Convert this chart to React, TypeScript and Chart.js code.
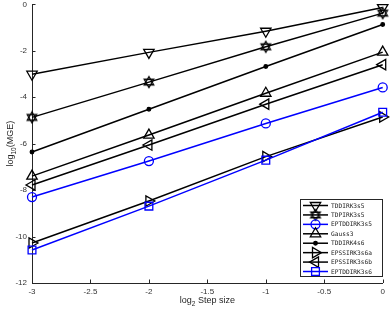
import React, { useEffect, useRef } from "react";
import { Chart, registerables } from "chart.js";
import { drawPoint } from "chart.js/helpers";
Chart.register(...registerables);

const stepSizes = [-3, -2, -1, 0];
const xTickValues = [-3, -2.5, -2, -1.5, -1, -0.5, 0];
const yTickValues = [-12, -10, -8, -6, -4, -2, 0];
const seriesNames = [
  "TDDIRK3s5",
  "TDPIRK3s5",
  "EPTDDIRK3s5",
  "Gauss3",
  "TDDIRK4s6",
  "EPSSIRK3s6a",
  "EPSSIRK3s6b",
  "EPTDDIRK3s6",
];
const tddirk3s5 = [-3.01, -2.07, -1.16, -0.14];
const tdpirk3s5 = [-4.87, -3.35, -1.83, -0.38];
const eptddirk3s5 = [-8.3, -6.75, -5.13, -3.58];
const gauss3 = [-7.4, -5.63, -3.83, -2.06];
const tddirk4s6 = [-6.36, -4.52, -2.68, -0.87];
const epssirk3s6a = [-10.28, -8.47, -6.56, -4.85];
const epssirk3s6b = [-7.78, -6.06, -4.3, -2.6];
const eptddirk3s6 = [-10.58, -8.69, -6.71, -4.65];
const seriesValues = [
  tddirk3s5,
  tdpirk3s5,
  eptddirk3s5,
  gauss3,
  tddirk4s6,
  epssirk3s6a,
  epssirk3s6b,
  eptddirk3s6,
];

const BLUE = "#0000ff";
const BLACK = "#000000";
const AXIS = "#262626";
const SHIFT = 3; // canvas is shifted up by this many pixels

function makeHexagram(): HTMLCanvasElement {
  const c = document.createElement("canvas");
  c.width = 14;
  c.height = 14;
  const g = c.getContext("2d")!;
  g.strokeStyle = BLACK;
  g.lineWidth = 1.3;
  const r = 5.5;
  const cx = 7,
    cy = 7;
  for (const off of [0, Math.PI]) {
    g.beginPath();
    for (let k = 0; k < 3; k++) {
      const a = off + (k * 2 * Math.PI) / 3;
      const px = cx + Math.sin(a) * r;
      const py = cy - Math.cos(a) * r;
      if (k === 0) g.moveTo(px, py);
      else g.lineTo(px, py);
    }
    g.closePath();
    g.stroke();
  }
  return c;
}

type MarkerDef = {
  color: string;
  pointStyle: any;
  rotation: number;
  radius: number;
  filled: boolean;
};

export default function App() {
  const ref = useRef<HTMLCanvasElement | null>(null);

  useEffect(() => {
    if (!ref.current) return;
    const hex = makeHexagram();
    const markers: MarkerDef[] = [
      { color: BLACK, pointStyle: "triangle", rotation: 180, radius: 6, filled: false },
      { color: BLACK, pointStyle: hex, rotation: 0, radius: 6, filled: false },
      { color: BLUE, pointStyle: "circle", rotation: 0, radius: 4.5, filled: false },
      { color: BLACK, pointStyle: "triangle", rotation: 0, radius: 6, filled: false },
      { color: BLACK, pointStyle: "circle", rotation: 0, radius: 1.8, filled: true },
      { color: BLACK, pointStyle: "triangle", rotation: 90, radius: 6, filled: false },
      { color: BLACK, pointStyle: "triangle", rotation: -90, radius: 6, filled: false },
      { color: BLUE, pointStyle: "rect", rotation: 0, radius: 5.5, filled: false },
    ];

    const datasets = seriesNames.map((name, i) => ({
      label: name,
      data: stepSizes.map((x, j) => ({ x, y: seriesValues[i][j] })),
      borderColor: markers[i].color,
      backgroundColor: markers[i].filled ? markers[i].color : "rgba(0,0,0,0)",
      borderWidth: 1.5,
      pointStyle: markers[i].pointStyle,
      pointRotation: markers[i].rotation,
      pointRadius: markers[i].radius,
      pointBorderWidth: 1.3,
      pointBorderColor: markers[i].color,
      pointBackgroundColor: markers[i].filled ? markers[i].color : "rgba(0,0,0,0)",
      showLine: true,
      tension: 0,
      clip: false,
      order: 8 - i,
    }));

    const axesPlugin = {
      id: "matlabAxes",
      afterDatasetsDraw(chart: any) {
        const ctx = chart.ctx as CanvasRenderingContext2D;
        const xs = chart.scales.x;
        const ys = chart.scales.y;
        const area = chart.chartArea;
        ctx.save();
        ctx.strokeStyle = AXIS;
        ctx.lineWidth = 1;
        ctx.beginPath();
        for (const v of xTickValues) {
          const px = Math.round(xs.getPixelForValue(v)) + 0.5;
          ctx.moveTo(px, area.bottom);
          ctx.lineTo(px, area.bottom - 3.5);
        }
        for (const v of yTickValues) {
          const py = Math.round(ys.getPixelForValue(v)) + 0.5;
          ctx.moveTo(area.left, py);
          ctx.lineTo(area.left + 3.5, py);
        }
        ctx.stroke();

        // axis titles
        ctx.fillStyle = AXIS;
        ctx.textBaseline = "alphabetic";
        const big = "9px 'Liberation Sans', Arial, sans-serif";
        const small = "6.5px 'Liberation Sans', Arial, sans-serif";
        // x title
        ctx.font = big;
        const w1 = ctx.measureText("log").width;
        const w3 = ctx.measureText(" Step size").width;
        ctx.font = small;
        const w2 = ctx.measureText("2").width;
        const total = w1 + w2 + w3;
        const cx = (area.left + area.right) / 2;
        let sx = cx - total / 2;
        const by = 303 + SHIFT;
        ctx.textAlign = "left";
        ctx.font = big;
        ctx.fillText("log", sx, by);
        ctx.font = small;
        ctx.fillText("2", sx + w1, by + 2.5);
        ctx.font = big;
        ctx.fillText(" Step size", sx + w1 + w2, by);

        // y title
        ctx.save();
        ctx.translate(13, (area.top + area.bottom) / 2);
        ctx.rotate(-Math.PI / 2);
        ctx.font = big;
        const a1 = ctx.measureText("log").width;
        const a3 = ctx.measureText("(MGE)").width;
        ctx.font = small;
        const a2 = ctx.measureText("10").width;
        const tot = a1 + a2 + a3;
        let ty = -tot / 2;
        ctx.font = big;
        ctx.fillText("log", ty, 0);
        ctx.font = small;
        ctx.fillText("10", ty + a1, 2.5);
        ctx.font = big;
        ctx.fillText("(MGE)", ty + a1 + a2, 0);
        ctx.restore();

        // legend
        const lx = 300.5,
          lyTop = 199.5 + SHIFT,
          lw = 82,
          lh = 77;
        ctx.fillStyle = "#ffffff";
        ctx.fillRect(lx, lyTop, lw, lh);
        ctx.strokeStyle = AXIS;
        ctx.lineWidth = 1;
        ctx.strokeRect(lx, lyTop, lw, lh);
        ctx.font = "6.2px 'DejaVu Sans Mono', 'Liberation Mono', monospace";
        ctx.textBaseline = "middle";
        seriesNames.forEach((name, i) => {
          const y = 205.5 + SHIFT + i * 9.43;
          const m = markers[i];
          ctx.strokeStyle = m.color;
          ctx.lineWidth = 1.5;
          ctx.beginPath();
          ctx.moveTo(303, y);
          ctx.lineTo(328, y);
          ctx.stroke();
          ctx.strokeStyle = m.color;
          ctx.fillStyle = m.filled ? m.color : "rgba(0,0,0,0)";
          ctx.lineWidth = 1.3;
          drawPoint(
            ctx,
            {
              pointStyle: m.pointStyle,
              rotation: m.rotation,
              radius: m.radius,
              borderWidth: 1.3,
            } as any,
            315.5,
            y
          );
          ctx.fillStyle = "#222222";
          ctx.textAlign = "left";
          ctx.fillText(name, 331, y + 0.5);
        });
        ctx.restore();
      },
    };

    const chart = new Chart(ref.current, {
      type: "scatter",
      data: { datasets: datasets as any },
      options: {
        animation: false,
        responsive: false,
        maintainAspectRatio: false,
        layout: { padding: { top: 1, right: 7, left: 0, bottom: 0 } },
        plugins: {
          legend: { display: false },
          tooltip: { enabled: false },
        },
        scales: {
          x: {
            type: "linear",
            min: -3,
            max: 0,
            afterFit: (s: any) => {
              s.height = 29;
              s.paddingLeft = 0;
              s.paddingRight = 0;
            },
            afterBuildTicks: (s: any) => {
              s.ticks = xTickValues.map((v) => ({ value: v }));
            },
            grid: { display: false, drawTicks: false },
            border: { display: true, color: AXIS, width: 1 },
            ticks: {
              padding: 4,
              color: "#333333",
              font: { size: 8, family: "'Liberation Sans', Arial, sans-serif" },
              callback: (v: any) => String(v),
              maxRotation: 0,
              autoSkip: false,
            },
          },
          y: {
            type: "linear",
            min: -12,
            max: 0,
            afterFit: (s: any) => {
              s.width = 32;
              s.paddingTop = 0;
              s.paddingBottom = 0;
            },
            afterBuildTicks: (s: any) => {
              s.ticks = yTickValues.map((v) => ({ value: v }));
            },
            grid: { display: false, drawTicks: false },
            border: { display: true, color: AXIS, width: 1 },
            ticks: {
              padding: 5,
              color: "#333333",
              font: { size: 8, family: "'Liberation Sans', Arial, sans-serif" },
              callback: (v: any) => String(v),
              autoSkip: false,
            },
          },
        },
      },
      plugins: [axesPlugin],
    });
    return () => chart.destroy();
  }, []);

  return (
    <div style={{ position: "fixed", left: 0, top: 0, width: 390, height: 312, overflow: "hidden", background: "#fff" }}>
      <canvas
        ref={ref}
        width={390}
        height={312 + SHIFT}
        style={{ position: "absolute", left: 0, top: -SHIFT, width: 390, height: 312 + SHIFT }}
      />
    </div>
  );
}
